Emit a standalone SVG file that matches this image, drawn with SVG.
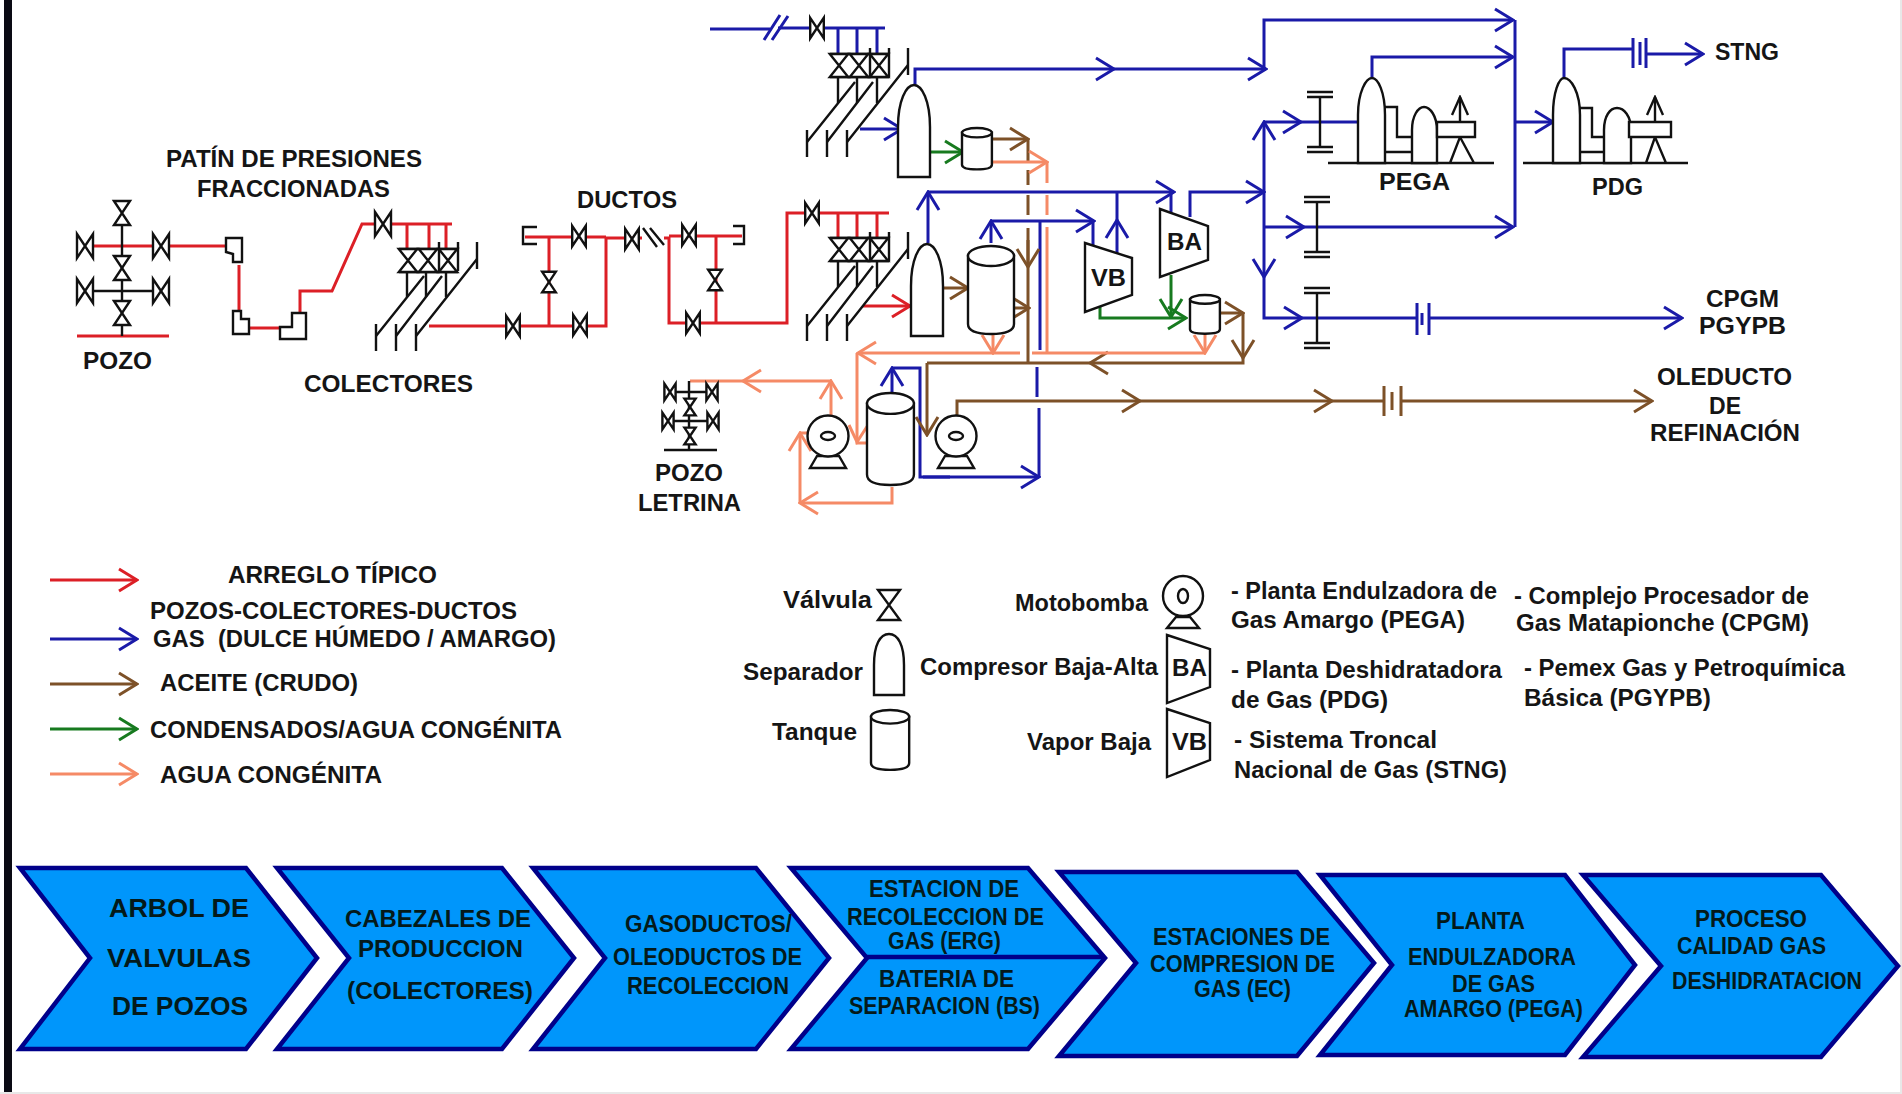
<svg xmlns="http://www.w3.org/2000/svg" width="1902" height="1094" viewBox="0 0 1902 1094">
<style>
text{font-family:"Liberation Sans",Arial,sans-serif;font-weight:bold;fill:#151515;font-size:23px}
.c{font-size:24px;fill:#041a1a}
.c2{font-size:26px;fill:#041a1a}
.k{fill:none;stroke:#111;stroke-width:2.4;vector-effect:non-scaling-stroke}
.w{fill:#fff;stroke:#111;stroke-width:2.4;stroke-linejoin:miter;vector-effect:non-scaling-stroke}
.r,.b,.br,.g,.s{fill:none;stroke-width:3;stroke-linejoin:miter}
.r{stroke:#dc1f26}.b{stroke:#1a1aa8}.br{stroke:#7d5128}.g{stroke:#177a1f}.s{stroke:#f58a66}
.ar{marker-end:url(#mr)}.ab{marker-end:url(#mb)}.abr{marker-end:url(#mbr)}.ag{marker-end:url(#mg)}.as{marker-end:url(#ms)}.ak{marker-end:url(#mk)}
.chev{fill:#0096fb;stroke:#00008a;stroke-width:4.5;stroke-linejoin:miter}
</style>
<defs>
<marker id="mr" markerUnits="userSpaceOnUse" viewBox="-22 -15 24 30" refX="0" refY="0" markerWidth="24" markerHeight="30" orient="auto"><path d="M-18,-11 L0,0 L-18,11" fill="none" stroke="#dc1f26" stroke-width="3"/></marker>
<marker id="mb" markerUnits="userSpaceOnUse" viewBox="-22 -15 24 30" refX="0" refY="0" markerWidth="24" markerHeight="30" orient="auto"><path d="M-18,-11 L0,0 L-18,11" fill="none" stroke="#1a1aa8" stroke-width="3"/></marker>
<marker id="mbr" markerUnits="userSpaceOnUse" viewBox="-22 -15 24 30" refX="0" refY="0" markerWidth="24" markerHeight="30" orient="auto"><path d="M-18,-11 L0,0 L-18,11" fill="none" stroke="#7d5128" stroke-width="3"/></marker>
<marker id="mg" markerUnits="userSpaceOnUse" viewBox="-22 -15 24 30" refX="0" refY="0" markerWidth="24" markerHeight="30" orient="auto"><path d="M-18,-11 L0,0 L-18,11" fill="none" stroke="#177a1f" stroke-width="3"/></marker>
<marker id="ms" markerUnits="userSpaceOnUse" viewBox="-22 -15 24 30" refX="0" refY="0" markerWidth="24" markerHeight="30" orient="auto"><path d="M-18,-11 L0,0 L-18,11" fill="none" stroke="#f58a66" stroke-width="3"/></marker>
<marker id="mk" markerUnits="userSpaceOnUse" viewBox="-22 -15 24 30" refX="0" refY="0" markerWidth="24" markerHeight="30" orient="auto"><path d="M-18,-8 L0,0 L-18,8" fill="none" stroke="#111" stroke-width="2.4"/></marker>
<path id="vh" class="w" d="M-8,-12 L8,12 V-12 L-8,12 Z"/>
<path id="vv" class="w" d="M-8,-12 L8,12 H-8 L8,-12 Z"/>
<path id="sep" class="w" d="M0,92 V42 C0,16 8,0 16,0 C24,0 32,16 32,42 V92 Z"/>
<g id="tank"><path class="w" d="M0,10 V78 Q0,88 23,88 Q46,88 46,78 V10 Z"/><ellipse class="w" cx="23" cy="10" rx="23" ry="10"/></g>
<g id="pump"><path class="w" d="M-11,20 L-18,32 H18 L11,20 Z"/><circle class="w" r="20.5"/><ellipse class="k" rx="7" ry="4"/></g>
<g id="block"><path class="k" d="M0,0 H59 M0,23 H59"/><use href="#vv" transform="translate(9,11.5) scale(1.15,.96)"/><use href="#vv" transform="translate(29,11.5) scale(1.15,.96)"/><use href="#vv" transform="translate(49,11.5) scale(1.15,.96)"/></g>
<g id="manifold"><path class="k" d="M8,23 V49 M27,23 V49 M47,23 V49"/><path class="k" d="M-23,88 L25,28 M-3,88 L43,28 M17,88 L78,11"/><path class="k" d="M-23,76 V103 M-3,76 V103 M17,76 V103 M40,-6 V23 M59,-6 V23 M78,-6 V21"/></g>
<g id="flange"><path class="k" d="M0,-24 V24 M-13,-30 H13 M-13,-25 H13 M-13,25 H13 M-13,30 H13"/></g>
</defs>
<rect width="1902" height="1094" fill="#fff"/>
<rect x="4" y="0" width="8" height="1094" fill="#0a0a14"/>
<rect x="0" y="1092" width="1902" height="2" fill="#e8e8e8"/>
<rect x="1900" y="0" width="2" height="1094" fill="#e8e8e8"/>

<g id="connectors">
<path class="r" d="M93,246 H225 M239,265 V310 M249,328 H280 M300,313 V291 H332 L362,224 H452 M407,224 V248 M429,224 V248 M446,224 V248"/>
<path class="r" d="M77,336 H169"/>
<path class="r" d="M429,326 H606 V238 H642 M525,237 H606 M549,237 V325"/>
<path class="r" d="M664,238 H669 V323 H787 V213 H889 M669,236 H742 M716,236 V323 M838,213 V239 M857,213 V239 M877,213 V239"/>
<path class="r ar" d="M863,306 H910"/>
<path class="b" d="M710,29 H770 M778,28 H885 M838,29 V54 M857,29 V54 M877,29 V54"/>
<path class="b" d="M764,40 L780,15 M772,40 L788,16" stroke-width="2.4"/>
<path class="b ab" d="M860,129 H902"/>
<path class="b ab" d="M915,85 V69 H1114"/>
<path class="b ab" d="M1114,69 H1266"/>
<path class="b ab" d="M1264,70 V20 H1513"/>
<path class="b" d="M1515,20 V227"/>
<path class="b ab" d="M1372,78 V57 H1513"/>
<path class="b ab" d="M1264,192 V122"/>
<path class="b ab" d="M1264,122 H1301"/>
<path class="b" d="M1301,122 H1358"/>
<path class="b ab" d="M1515,122 H1553"/>
<path class="b" d="M1564,78 V49 H1633"/>
<path class="b ab" d="M1646,54 H1703"/>
<path class="b ab" d="M1264,192 V277"/>
<path class="b ab" d="M1264,227 H1304"/>
<path class="b ab" d="M1304,227 H1513"/>
<path class="b ab" d="M1264,277 V318 H1302"/>
<path class="b" d="M1302,318 H1417"/>
<path class="b ab" d="M1429,318 H1682"/>
<path class="b" d="M1417,303 V335 M1429,303 V335"/>
<path class="b" d="M1422,313 V325" stroke-width="2"/>
<path class="b" d="M1633,38 V68 M1646,38 V68"/>
<path class="b" d="M1640,42 V65" stroke-width="2"/>
<path class="b ab" d="M928,243 V192"/>
<path class="b ab" d="M928,192 H1174"/>
<path class="b" d="M1171,192 V212"/>
<path class="b ab" d="M1190,217 V192 H1264"/>
<path class="b ab" d="M991,243 V221"/>
<path class="b ab" d="M991,221 H1094"/>
<path class="b" d="M1093,221 V245"/>
<path class="b ab" d="M1117,253 V220"/>
<path class="b" d="M1117,220 V192"/>
<path class="b" d="M1040,222 V350 M1037,367 V397"/>
<path class="b ab" d="M892,393 V368"/>
<path class="b ab" d="M892,368 H920 V477 H1039"/>
<path class="b" stroke-width="5" d="M923,477 H950"/>
<path class="b" d="M1039,408 V477"/>
<path class="br abr" d="M943,288 H968"/>
<path class="br abr" d="M992,139 H1028"/>
<path class="br" d="M1028,139 V162 M1028,170 V185 M1028,195 V215 M1028,228 V363"/>
<path class="br abr" d="M1028,240 V267"/>
<path class="br abr" d="M1014,308 H1029"/>
<path class="br abr" d="M1220,313 H1243"/>
<path class="br abr" d="M1243,313 V358"/>
<path class="br" d="M1243,358 V363 H1098"/>
<path class="br abr" d="M1098,363 H1090"/>
<path class="br" d="M1090,363 H927"/>
<path class="br abr" d="M927,363 V435"/>
<path class="br abr" d="M957,415 V401 H1140"/>
<path class="br abr" d="M1140,401 H1332"/>
<path class="br" d="M1332,401 H1384"/>
<path class="br abr" d="M1401,401 H1652"/>
<path class="br" d="M1384,386 V416 M1401,386 V416"/>
<path class="br" d="M1392,392 V410" stroke-width="2"/>
<path class="g ag" d="M931,152 H963"/>
<path class="g ag" d="M1100,307 V318 H1186"/>
<path class="g ag" d="M1171,275 V317"/>
<path class="s as" d="M992,162 H1047"/>
<path class="s" d="M1047,162 V183 M1047,195 V215 M1047,227 V353"/>
<path class="s" d="M1205,353 H1032"/>
<path class="s as" d="M1020,353 H858"/>
<path class="s" d="M857,353 V443 H867"/>
<path class="s" d="M849,425 L857,442 L868,425" stroke-width="2.6"/>
<path class="s as" d="M1205,334 V353"/>
<path class="s as" d="M993,333 V353"/>
<path class="s as" d="M831,415 V381"/>
<path class="s as" d="M831,381 H743"/>
<path class="s" d="M743,381 H690"/>
<path class="s as" d="M892,487 V503 H800"/>
<path class="s as" d="M800,503 V433"/>
<path class="s" d="M800,433 H810"/>
</g>

<g id="pozo">
<path class="k" d="M122,225 V336 M85,291 H161"/>
<use href="#vv" x="122" y="213"/><use href="#vv" x="122" y="268"/><use href="#vv" x="122" y="313"/>
<use href="#vh" x="85" y="246"/><use href="#vh" x="161" y="246"/><use href="#vh" x="85" y="291"/><use href="#vh" x="161" y="291"/>
<text x="83" y="369" textLength="69" lengthAdjust="spacingAndGlyphs">POZO</text>
</g>

<g id="patin">
<path class="w" d="M226,238 H242 V262 H233 V254 L226,252 Z"/>
<path class="w" d="M233,311 H241 V319 H249 V334 H233 Z"/>
<path class="w" d="M280,327 H292 V313 H306 V339 H280 Z"/>
<text x="166" y="167" textLength="256" lengthAdjust="spacingAndGlyphs">PATÍN DE PRESIONES</text>
<text x="197" y="197" textLength="193" lengthAdjust="spacingAndGlyphs">FRACCIONADAS</text>
</g>

<g id="colectores">
<use href="#vh" x="383" y="224"/>
<use href="#manifold" x="399" y="248"/>
<use href="#block" x="399" y="249"/>
<use href="#vh" transform="translate(513,326) scale(.85)"/>
<text x="304" y="392" textLength="169" lengthAdjust="spacingAndGlyphs">COLECTORES</text>
</g>

<g id="ductos">
<path class="k" d="M537,227 H523 V244 H537 M733,226 H744 V244 H733 M643,228 L657,247 M650,228 L664,245"/>
<use href="#vh" transform="translate(579,236) scale(.85)"/>
<use href="#vh" transform="translate(632,239) scale(.85)"/>
<use href="#vh" transform="translate(689,235) scale(.85)"/>
<use href="#vv" transform="translate(549,282) scale(.85)"/>
<use href="#vv" transform="translate(715,280) scale(.85)"/>
<use href="#vh" transform="translate(580,325) scale(.85)"/>
<use href="#vh" transform="translate(693,323) scale(.85)"/>
<text x="577" y="208" textLength="100" lengthAdjust="spacingAndGlyphs">DUCTOS</text>
</g>

<g id="estacion-superior">
<use href="#vh" transform="translate(817,28) scale(.85)"/>
<use href="#manifold" x="830" y="54"/>
<use href="#block" x="830" y="54"/>
<use href="#sep" x="898" y="85"/>
<use href="#tank" transform="translate(962,128) scale(.65,.47)"/>
</g>

<g id="estacion-media">
<use href="#vh" transform="translate(812,213) scale(.85)"/>
<use href="#manifold" x="830" y="238"/>
<use href="#block" x="830" y="238"/>
<use href="#sep" x="911" y="244"/>
<use href="#tank" x="968" y="246"/>
</g>

<g id="compresor-vb">
<path class="w" d="M1085,243 L1132,258 V295 L1085,312 Z"/>
<text x="1091" y="286" textLength="35" lengthAdjust="spacingAndGlyphs">VB</text>
</g>
<g id="compresor-ba">
<path class="w" d="M1160,209 L1208,226 V260 L1160,277 Z"/>
<text x="1167" y="250" textLength="35" lengthAdjust="spacingAndGlyphs">BA</text>
</g>
<g id="tanque-c"><use href="#tank" transform="translate(1190,295) scale(.65,.44)"/></g>

<g id="flanges">
<use href="#flange" x="1320" y="122"/>
<use href="#flange" x="1317" y="227"/>
<use href="#flange" x="1317" y="318"/>
</g>

<g id="pega">
<path class="k" d="M1328,163 H1494 M1385,107 H1397 V137 H1412 M1385,152 H1412 M1450,163 L1460,137 L1474,163"/>
<path class="w" d="M1358,163 V115 C1358,92 1366,78 1372,78 C1378,78 1385,92 1385,115 V163 Z"/>
<path class="w" d="M1412,163 V130 C1412,116 1418,107 1424,107 C1430,107 1437,116 1437,130 V163 Z"/>
<rect class="w" x="1437" y="122" width="38" height="15"/>
<path class="k ak" d="M1460,122 V97"/>
<text x="1379" y="190" textLength="71" lengthAdjust="spacingAndGlyphs">PEGA</text>
</g>

<g id="pdg">
<path class="k" d="M1523,163 H1688 M1580,108 H1592 V137 H1604 M1580,152 H1604 M1646,163 L1655,137 L1666,163"/>
<path class="w" d="M1553,163 V115 C1553,92 1559,78 1564,78 C1571,78 1580,92 1580,115 V163 Z"/>
<path class="w" d="M1604,163 V130 C1604,116 1610,108 1617,108 C1624,108 1631,116 1631,130 V163 Z"/>
<rect class="w" x="1629" y="122" width="42" height="15"/>
<path class="k ak" d="M1655,122 V97"/>
<text x="1592" y="195" textLength="51" lengthAdjust="spacingAndGlyphs">PDG</text>
</g>

<g id="bateria-inferior">
<use href="#tank" transform="translate(867,393) scale(1.02,1.045)"/>
<use href="#pump" x="828" y="436"/>
<use href="#pump" x="956" y="436"/>
</g>

<g id="pozo-letrina">
<path class="k" d="M689,381 V450 M664,450 H717 M664,392 H717 M664,421 H717"/>
<use href="#vh" transform="translate(670,392) scale(.7)"/><use href="#vh" transform="translate(712,392) scale(.7)"/>
<use href="#vh" transform="translate(668,421) scale(.7)"/><use href="#vh" transform="translate(713,421) scale(.7)"/>
<use href="#vv" transform="translate(690,407) scale(.7)"/><use href="#vv" transform="translate(690,436) scale(.7)"/>
<text x="655" y="481" textLength="68" lengthAdjust="spacingAndGlyphs">POZO</text>
<text x="638" y="511" textLength="103" lengthAdjust="spacingAndGlyphs">LETRINA</text>
</g>

<g id="destinos">
<text x="1715" y="60" textLength="64" lengthAdjust="spacingAndGlyphs">STNG</text>
<text x="1706" y="307" textLength="73" lengthAdjust="spacingAndGlyphs">CPGM</text>
<text x="1699" y="334" textLength="87" lengthAdjust="spacingAndGlyphs">PGYPB</text>
<text x="1657" y="385" textLength="135" lengthAdjust="spacingAndGlyphs">OLEDUCTO</text>
<text x="1709" y="414" textLength="32" lengthAdjust="spacingAndGlyphs">DE</text>
<text x="1650" y="441" textLength="150" lengthAdjust="spacingAndGlyphs">REFINACIÓN</text>
</g>

<g id="leyenda-lineas">
<path class="r ar" d="M50,580 H137"/>
<path class="b ab" d="M50,639 H137"/>
<path class="br abr" d="M50,684 H137"/>
<path class="g ag" d="M50,729 H137"/>
<path class="s as" d="M50,774 H137"/>
<text x="228" y="583" textLength="209" lengthAdjust="spacingAndGlyphs">ARREGLO TÍPICO</text>
<text x="150" y="619" textLength="367" lengthAdjust="spacingAndGlyphs">POZOS-COLECTORES-DUCTOS</text>
<text x="153" y="647" textLength="403" lengthAdjust="spacingAndGlyphs" xml:space="preserve">GAS  (DULCE HÚMEDO / AMARGO)</text>
<text x="160" y="691" textLength="198" lengthAdjust="spacingAndGlyphs">ACEITE (CRUDO)</text>
<text x="150" y="738" textLength="412" lengthAdjust="spacingAndGlyphs">CONDENSADOS/AGUA CONGÉNITA</text>
<text x="160" y="783" textLength="222" lengthAdjust="spacingAndGlyphs">AGUA CONGÉNITA</text>
</g>

<g id="leyenda-equipos">
<text x="783" y="608" textLength="89" lengthAdjust="spacingAndGlyphs">Válvula</text>
<path class="w" d="M878,590 H900 L878,620 H900 Z"/>
<text x="743" y="680" textLength="120" lengthAdjust="spacingAndGlyphs">Separador</text>
<path class="w" d="M874,695 V665 C874,645 880,634 889,634 C898,634 904,645 904,665 V695 Z"/>
<text x="772" y="740" textLength="85" lengthAdjust="spacingAndGlyphs">Tanque</text>
<use href="#tank" transform="translate(871,710) scale(.83,.68)"/>
<text x="1015" y="611" textLength="133" lengthAdjust="spacingAndGlyphs">Motobomba</text>
<path class="w" d="M1176,617 L1167,628 H1199 L1190,617 Z"/>
<circle class="w" cx="1183" cy="596" r="20"/><ellipse class="k" cx="1183" cy="596" rx="5" ry="7"/>
<text x="920" y="675" textLength="238" lengthAdjust="spacingAndGlyphs">Compresor Baja-Alta</text>
<path class="w" d="M1167,635 L1210,649 V687 L1167,703 Z"/>
<text x="1172" y="676" textLength="35" lengthAdjust="spacingAndGlyphs">BA</text>
<text x="1027" y="750" textLength="124" lengthAdjust="spacingAndGlyphs">Vapor Baja</text>
<path class="w" d="M1167,709 L1210,723 V760 L1167,777 Z"/>
<text x="1172" y="750" textLength="35" lengthAdjust="spacingAndGlyphs">VB</text>
</g>

<g id="leyenda-siglas">
<text x="1231" y="599" textLength="266" lengthAdjust="spacingAndGlyphs">- Planta Endulzadora de</text>
<text x="1231" y="628" textLength="234" lengthAdjust="spacingAndGlyphs">Gas Amargo (PEGA)</text>
<text x="1514" y="604" textLength="295" lengthAdjust="spacingAndGlyphs">- Complejo Procesador de</text>
<text x="1516" y="631" textLength="293" lengthAdjust="spacingAndGlyphs">Gas Matapionche (CPGM)</text>
<text x="1231" y="678" textLength="271" lengthAdjust="spacingAndGlyphs">- Planta Deshidratadora</text>
<text x="1231" y="708" textLength="157" lengthAdjust="spacingAndGlyphs">de Gas (PDG)</text>
<text x="1524" y="676" textLength="321" lengthAdjust="spacingAndGlyphs">- Pemex Gas y Petroquímica</text>
<text x="1524" y="706" textLength="187" lengthAdjust="spacingAndGlyphs">Básica (PGYPB)</text>
<text x="1234" y="748" textLength="203" lengthAdjust="spacingAndGlyphs">- Sistema Troncal</text>
<text x="1234" y="778" textLength="273" lengthAdjust="spacingAndGlyphs">Nacional de Gas (STNG)</text>
</g>

<g id="chevron-1">
<path class="chev" d="M20,868 H246 L317,958 L246,1049 H20 L90,958 Z"/>
<text class="c2" x="109" y="917" textLength="140" lengthAdjust="spacingAndGlyphs">ARBOL DE</text>
<text class="c2" x="107" y="967" textLength="144" lengthAdjust="spacingAndGlyphs">VALVULAS</text>
<text class="c2" x="112" y="1015" textLength="136" lengthAdjust="spacingAndGlyphs">DE POZOS</text>
</g>
<g id="chevron-2">
<path class="chev" d="M277,868 H502 L574,958 L502,1049 H277 L349,958 Z"/>
<text class="c" x="345" y="927" textLength="186" lengthAdjust="spacingAndGlyphs">CABEZALES DE</text>
<text class="c" x="358" y="957" textLength="165" lengthAdjust="spacingAndGlyphs">PRODUCCION</text>
<text class="c" x="347" y="999" textLength="186" lengthAdjust="spacingAndGlyphs">(COLECTORES)</text>
</g>
<g id="chevron-3">
<path class="chev" d="M533,868 H756 L829,958 L756,1049 H533 L605,958 Z"/>
<text class="c" x="625" y="932" textLength="167" lengthAdjust="spacingAndGlyphs">GASODUCTOS/</text>
<text class="c" x="613" y="965" textLength="189" lengthAdjust="spacingAndGlyphs">OLEODUCTOS DE</text>
<text class="c" x="627" y="994" textLength="162" lengthAdjust="spacingAndGlyphs">RECOLECCION</text>
</g>
<g id="chevron-4">
<path class="chev" d="M791,868 H1028 L1105,958 L1028,1049 H791 L867,958 Z"/>
<path class="chev" d="M867,957 H1105" fill="none"/>
<text class="c" x="869" y="897" textLength="150" lengthAdjust="spacingAndGlyphs">ESTACION DE</text>
<text class="c" x="847" y="925" textLength="197" lengthAdjust="spacingAndGlyphs">RECOLECCION DE</text>
<text class="c" x="888" y="949" textLength="113" lengthAdjust="spacingAndGlyphs">GAS (ERG)</text>
<text class="c" x="879" y="987" textLength="135" lengthAdjust="spacingAndGlyphs">BATERIA DE</text>
<text class="c" x="849" y="1014" textLength="191" lengthAdjust="spacingAndGlyphs">SEPARACION (BS)</text>
</g>
<g id="chevron-5">
<path class="chev" d="M1059,872 H1297 L1374,963 L1297,1056 H1059 L1136,963 Z"/>
<text class="c" x="1153" y="945" textLength="177" lengthAdjust="spacingAndGlyphs">ESTACIONES DE</text>
<text class="c" x="1150" y="972" textLength="185" lengthAdjust="spacingAndGlyphs">COMPRESION DE</text>
<text class="c" x="1194" y="997" textLength="97" lengthAdjust="spacingAndGlyphs">GAS (EC)</text>
</g>
<g id="chevron-6">
<path class="chev" d="M1320,875 H1565 L1635,965 L1565,1055 H1320 L1392,965 Z"/>
<text class="c" x="1436" y="929" textLength="89" lengthAdjust="spacingAndGlyphs">PLANTA</text>
<text class="c" x="1408" y="965" textLength="168" lengthAdjust="spacingAndGlyphs">ENDULZADORA</text>
<text class="c" x="1452" y="992" textLength="83" lengthAdjust="spacingAndGlyphs">DE GAS</text>
<text class="c" x="1404" y="1017" textLength="179" lengthAdjust="spacingAndGlyphs">AMARGO (PEGA)</text>
</g>
<g id="chevron-7">
<path class="chev" d="M1583,875 H1821 L1898,966 L1821,1057 H1583 L1661,966 Z"/>
<text class="c" x="1695" y="927" textLength="112" lengthAdjust="spacingAndGlyphs">PROCESO</text>
<text class="c" x="1677" y="954" textLength="149" lengthAdjust="spacingAndGlyphs">CALIDAD GAS</text>
<text class="c" x="1672" y="989" textLength="190" lengthAdjust="spacingAndGlyphs">DESHIDRATACION</text>
</g>
</svg>
